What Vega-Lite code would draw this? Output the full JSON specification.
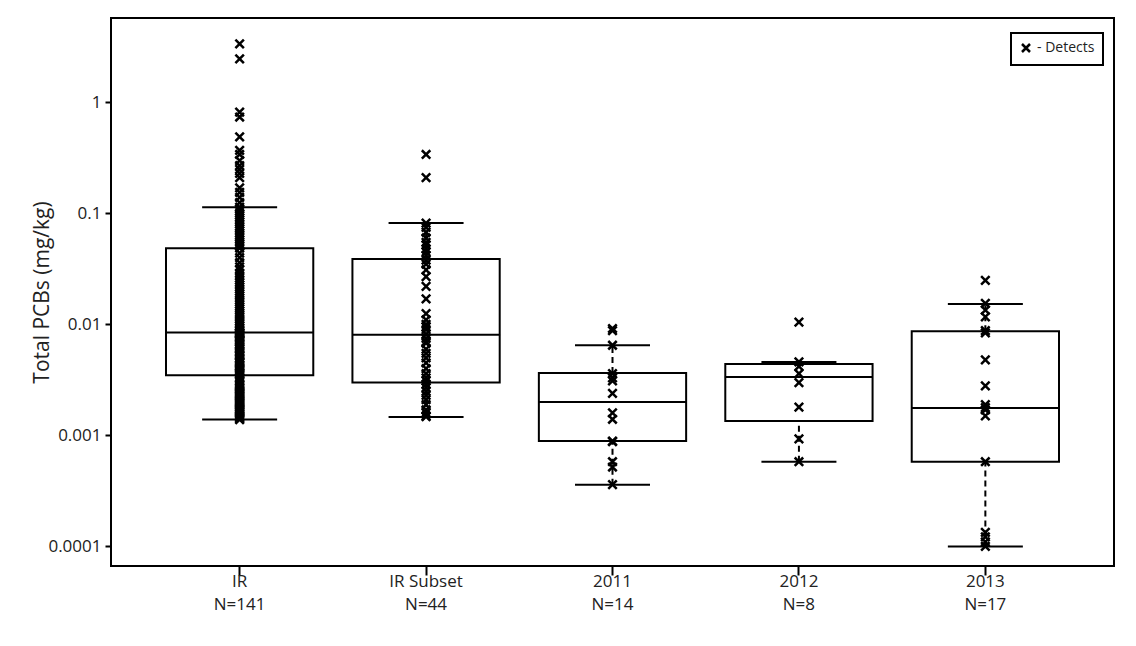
{
  "$schema": "https://vega.github.io/schema/vega-lite/v6.json",
  "width": 1003,
  "height": 548,
  "autosize": {"type": "none"},
  "padding": {"left": 111, "top": 18, "right": 22, "bottom": 80},
  "background": "white",
  "config": {
    "font": "Open Sans",
    "view": {"stroke": "black", "strokeWidth": 2},
    "axis": {"grid": false, "domain": false, "tickColor": "black", "labelColor": "#222", "titleColor": "#222", "labelFont": "Open Sans", "titleFont": "Open Sans"},
    "legend": {"strokeWidth": 2},
    "tick": {"opacity": 1}
  },
  "datasets": {
    "stats": [
      {"g": "IR", "n": 141, "lo": 0.00139, "q1": 0.00348, "med": 0.00847, "q3": 0.0487, "hi": 0.114},
      {"g": "IR Subset", "n": 44, "lo": 0.00147, "q1": 0.0030, "med": 0.0081, "q3": 0.039, "hi": 0.082},
      {"g": "2011", "n": 14, "lo": 0.00036, "q1": 0.00089, "med": 0.0020, "q3": 0.00366, "hi": 0.0065},
      {"g": "2012", "n": 8, "lo": 0.00058, "q1": 0.00135, "med": 0.00336, "q3": 0.0044, "hi": 0.0046},
      {"g": "2013", "n": 17, "lo": 0.0001, "q1": 0.00058, "med": 0.00177, "q3": 0.0087, "hi": 0.0153}
    ],
    "points": [
      {"g": "IR", "v": 0.00139}, {"g": "IR", "v": 0.00142}, {"g": "IR", "v": 0.00145}, {"g": "IR", "v": 0.00148}, {"g": "IR", "v": 0.00151},
      {"g": "IR", "v": 0.00155}, {"g": "IR", "v": 0.00158}, {"g": "IR", "v": 0.00162}, {"g": "IR", "v": 0.00166}, {"g": "IR", "v": 0.0017},
      {"g": "IR", "v": 0.00174}, {"g": "IR", "v": 0.00178}, {"g": "IR", "v": 0.00182}, {"g": "IR", "v": 0.00187}, {"g": "IR", "v": 0.00191},
      {"g": "IR", "v": 0.00196}, {"g": "IR", "v": 0.002}, {"g": "IR", "v": 0.00205}, {"g": "IR", "v": 0.0021}, {"g": "IR", "v": 0.00215},
      {"g": "IR", "v": 0.0022}, {"g": "IR", "v": 0.00225}, {"g": "IR", "v": 0.0023}, {"g": "IR", "v": 0.00236}, {"g": "IR", "v": 0.00242},
      {"g": "IR", "v": 0.00248}, {"g": "IR", "v": 0.00254}, {"g": "IR", "v": 0.0026}, {"g": "IR", "v": 0.00266}, {"g": "IR", "v": 0.00272},
      {"g": "IR", "v": 0.00279}, {"g": "IR", "v": 0.00286}, {"g": "IR", "v": 0.00293}, {"g": "IR", "v": 0.0031}, {"g": "IR", "v": 0.0033},
      {"g": "IR", "v": 0.00348},
      {"g": "IR", "v": 0.00356}, {"g": "IR", "v": 0.00365}, {"g": "IR", "v": 0.0037}, {"g": "IR", "v": 0.0038}, {"g": "IR", "v": 0.0039},
      {"g": "IR", "v": 0.004}, {"g": "IR", "v": 0.0041}, {"g": "IR", "v": 0.0042}, {"g": "IR", "v": 0.00435}, {"g": "IR", "v": 0.0045},
      {"g": "IR", "v": 0.0046}, {"g": "IR", "v": 0.0047}, {"g": "IR", "v": 0.0049}, {"g": "IR", "v": 0.005}, {"g": "IR", "v": 0.0052},
      {"g": "IR", "v": 0.0053}, {"g": "IR", "v": 0.0055}, {"g": "IR", "v": 0.0056}, {"g": "IR", "v": 0.0058}, {"g": "IR", "v": 0.006},
      {"g": "IR", "v": 0.0061}, {"g": "IR", "v": 0.0063}, {"g": "IR", "v": 0.0065}, {"g": "IR", "v": 0.0067}, {"g": "IR", "v": 0.0069},
      {"g": "IR", "v": 0.0071}, {"g": "IR", "v": 0.0073}, {"g": "IR", "v": 0.0075}, {"g": "IR", "v": 0.0077}, {"g": "IR", "v": 0.0079},
      {"g": "IR", "v": 0.0081}, {"g": "IR", "v": 0.0082}, {"g": "IR", "v": 0.0083}, {"g": "IR", "v": 0.0084}, {"g": "IR", "v": 0.00847},
      {"g": "IR", "v": 0.0087}, {"g": "IR", "v": 0.009}, {"g": "IR", "v": 0.0093}, {"g": "IR", "v": 0.0097}, {"g": "IR", "v": 0.01},
      {"g": "IR", "v": 0.0104}, {"g": "IR", "v": 0.0108}, {"g": "IR", "v": 0.0112}, {"g": "IR", "v": 0.0117}, {"g": "IR", "v": 0.0122},
      {"g": "IR", "v": 0.0127}, {"g": "IR", "v": 0.0133}, {"g": "IR", "v": 0.0139}, {"g": "IR", "v": 0.0145}, {"g": "IR", "v": 0.0152},
      {"g": "IR", "v": 0.0159}, {"g": "IR", "v": 0.0166}, {"g": "IR", "v": 0.0174}, {"g": "IR", "v": 0.0182}, {"g": "IR", "v": 0.019},
      {"g": "IR", "v": 0.0199}, {"g": "IR", "v": 0.0208}, {"g": "IR", "v": 0.0218}, {"g": "IR", "v": 0.0228}, {"g": "IR", "v": 0.0238},
      {"g": "IR", "v": 0.025}, {"g": "IR", "v": 0.0262}, {"g": "IR", "v": 0.0275}, {"g": "IR", "v": 0.029}, {"g": "IR", "v": 0.031},
      {"g": "IR", "v": 0.033}, {"g": "IR", "v": 0.036}, {"g": "IR", "v": 0.04}, {"g": "IR", "v": 0.044}, {"g": "IR", "v": 0.0487},
      {"g": "IR", "v": 0.051}, {"g": "IR", "v": 0.053}, {"g": "IR", "v": 0.055}, {"g": "IR", "v": 0.058}, {"g": "IR", "v": 0.061},
      {"g": "IR", "v": 0.064}, {"g": "IR", "v": 0.067}, {"g": "IR", "v": 0.07}, {"g": "IR", "v": 0.073}, {"g": "IR", "v": 0.076},
      {"g": "IR", "v": 0.08}, {"g": "IR", "v": 0.084}, {"g": "IR", "v": 0.088}, {"g": "IR", "v": 0.092}, {"g": "IR", "v": 0.096},
      {"g": "IR", "v": 0.1}, {"g": "IR", "v": 0.105}, {"g": "IR", "v": 0.11}, {"g": "IR", "v": 0.114}, {"g": "IR", "v": 0.125},
      {"g": "IR", "v": 0.14}, {"g": "IR", "v": 0.155}, {"g": "IR", "v": 0.17}, {"g": "IR", "v": 0.21}, {"g": "IR", "v": 0.23},
      {"g": "IR", "v": 0.25}, {"g": "IR", "v": 0.27}, {"g": "IR", "v": 0.3}, {"g": "IR", "v": 0.34}, {"g": "IR", "v": 0.37},
      {"g": "IR", "v": 0.49}, {"g": "IR", "v": 0.74}, {"g": "IR", "v": 0.82}, {"g": "IR", "v": 2.47}, {"g": "IR", "v": 3.37},

      {"g": "IR Subset", "v": 0.34}, {"g": "IR Subset", "v": 0.21}, {"g": "IR Subset", "v": 0.082}, {"g": "IR Subset", "v": 0.075},
      {"g": "IR Subset", "v": 0.068}, {"g": "IR Subset", "v": 0.06}, {"g": "IR Subset", "v": 0.055}, {"g": "IR Subset", "v": 0.052},
      {"g": "IR Subset", "v": 0.048}, {"g": "IR Subset", "v": 0.045}, {"g": "IR Subset", "v": 0.042}, {"g": "IR Subset", "v": 0.038},
      {"g": "IR Subset", "v": 0.035}, {"g": "IR Subset", "v": 0.031}, {"g": "IR Subset", "v": 0.027}, {"g": "IR Subset", "v": 0.022},
      {"g": "IR Subset", "v": 0.017}, {"g": "IR Subset", "v": 0.0125}, {"g": "IR Subset", "v": 0.011}, {"g": "IR Subset", "v": 0.01},
      {"g": "IR Subset", "v": 0.0095}, {"g": "IR Subset", "v": 0.009}, {"g": "IR Subset", "v": 0.0082}, {"g": "IR Subset", "v": 0.0075},
      {"g": "IR Subset", "v": 0.007}, {"g": "IR Subset", "v": 0.0068}, {"g": "IR Subset", "v": 0.006}, {"g": "IR Subset", "v": 0.0055},
      {"g": "IR Subset", "v": 0.005}, {"g": "IR Subset", "v": 0.0045}, {"g": "IR Subset", "v": 0.004}, {"g": "IR Subset", "v": 0.0036},
      {"g": "IR Subset", "v": 0.0033}, {"g": "IR Subset", "v": 0.0031}, {"g": "IR Subset", "v": 0.0029}, {"g": "IR Subset", "v": 0.0027},
      {"g": "IR Subset", "v": 0.0025}, {"g": "IR Subset", "v": 0.0023}, {"g": "IR Subset", "v": 0.0021}, {"g": "IR Subset", "v": 0.0019},
      {"g": "IR Subset", "v": 0.0017}, {"g": "IR Subset", "v": 0.0016}, {"g": "IR Subset", "v": 0.0015}, {"g": "IR Subset", "v": 0.00148},

      {"g": "2011", "v": 0.0092}, {"g": "2011", "v": 0.0088}, {"g": "2011", "v": 0.0065}, {"g": "2011", "v": 0.0036},
      {"g": "2011", "v": 0.0033}, {"g": "2011", "v": 0.0031}, {"g": "2011", "v": 0.0024}, {"g": "2011", "v": 0.0016},
      {"g": "2011", "v": 0.0014}, {"g": "2011", "v": 0.00089}, {"g": "2011", "v": 0.00088}, {"g": "2011", "v": 0.00058},
      {"g": "2011", "v": 0.00052}, {"g": "2011", "v": 0.00036},

      {"g": "2012", "v": 0.0105}, {"g": "2012", "v": 0.0046}, {"g": "2012", "v": 0.0042}, {"g": "2012", "v": 0.0036},
      {"g": "2012", "v": 0.003}, {"g": "2012", "v": 0.0018}, {"g": "2012", "v": 0.00093}, {"g": "2012", "v": 0.00058},

      {"g": "2013", "v": 0.025}, {"g": "2013", "v": 0.0155}, {"g": "2013", "v": 0.0135}, {"g": "2013", "v": 0.0117},
      {"g": "2013", "v": 0.0088}, {"g": "2013", "v": 0.0084}, {"g": "2013", "v": 0.0048}, {"g": "2013", "v": 0.0028},
      {"g": "2013", "v": 0.0019}, {"g": "2013", "v": 0.00178}, {"g": "2013", "v": 0.0017}, {"g": "2013", "v": 0.0015},
      {"g": "2013", "v": 0.00058}, {"g": "2013", "v": 0.000134}, {"g": "2013", "v": 0.000122}, {"g": "2013", "v": 0.00011},
      {"g": "2013", "v": 0.0001}
    ]
  },
  "encoding": {
    "x": {
      "field": "g",
      "type": "nominal",
      "sort": ["IR", "IR Subset", "2011", "2012", "2013"],
      "scale": {"type": "band", "domain": ["IR", "IR Subset", "2011", "2012", "2013"], "paddingInner": 0, "paddingOuter": 0.19},
      "axis": {
        "title": null,
        "domain": false,
        "labelAngle": 0,
        "labelFontSize": 17,
        "labelLineHeight": 23,
        "labelPadding": -2,
        "tickSize": 9,
        "tickWidth": 2,
        "labelExpr": "datum.value == 'IR' ? ['IR', 'N=141'] : datum.value == 'IR Subset' ? ['IR Subset', 'N=44'] : datum.value == '2011' ? ['2011', 'N=14'] : datum.value == '2012' ? ['2012', 'N=8'] : ['2013', 'N=17']"
      }
    }
  },
  "layer": [
    {
      "data": {"name": "stats"},
      "mark": {"type": "rule", "color": "black", "strokeWidth": 2, "strokeDash": [6, 4]},
      "encoding": {
        "y": {"field": "q3", "type": "quantitative", "scale": {"type": "log", "domain": [0.0000667, 5.77], "nice": false},
          "axis": {"title": "Total PCBs (mg/kg)", "domain": false, "titleFontSize": 21, "titleFontWeight": "normal", "titlePadding": -5, "values": [0.0001, 0.001, 0.01, 0.1, 1], "format": ".4~f", "labelFontSize": 17, "labelPadding": 4, "tickSize": 6, "tickWidth": 2}},
        "y2": {"field": "hi"}
      }
    },
    {
      "data": {"name": "stats"},
      "mark": {"type": "rule", "color": "black", "strokeWidth": 2, "strokeDash": [6, 4]},
      "encoding": {
        "y": {"field": "lo", "type": "quantitative", "scale": {"type": "log", "domain": [0.0000667, 5.77], "nice": false},
          "axis": {"title": "Total PCBs (mg/kg)", "domain": false, "titleFontSize": 21, "titleFontWeight": "normal", "titlePadding": -5, "values": [0.0001, 0.001, 0.01, 0.1, 1], "format": ".4~f", "labelFontSize": 17, "labelPadding": 4, "tickSize": 6, "tickWidth": 2}},
        "y2": {"field": "q1"}
      }
    },
    {
      "data": {"name": "stats"},
      "mark": {"type": "bar", "fill": "transparent", "stroke": "black", "strokeWidth": 2, "width": {"band": 0.79}},
      "encoding": {
        "y": {"field": "q1", "type": "quantitative", "scale": {"type": "log", "domain": [0.0000667, 5.77], "nice": false},
          "axis": {"title": "Total PCBs (mg/kg)", "domain": false, "titleFontSize": 21, "titleFontWeight": "normal", "titlePadding": -5, "values": [0.0001, 0.001, 0.01, 0.1, 1], "format": ".4~f", "labelFontSize": 17, "labelPadding": 4, "tickSize": 6, "tickWidth": 2}},
        "y2": {"field": "q3"}
      }
    },
    {
      "data": {"name": "stats"},
      "mark": {"type": "tick", "color": "black", "opacity": 1, "size": 148, "thickness": 2, "orient": "horizontal"},
      "encoding": {
        "y": {"field": "med", "type": "quantitative", "scale": {"type": "log", "domain": [0.0000667, 5.77], "nice": false},
          "axis": {"title": "Total PCBs (mg/kg)", "domain": false, "titleFontSize": 21, "titleFontWeight": "normal", "titlePadding": -5, "values": [0.0001, 0.001, 0.01, 0.1, 1], "format": ".4~f", "labelFontSize": 17, "labelPadding": 4, "tickSize": 6, "tickWidth": 2}}
      }
    },
    {
      "data": {"name": "stats"},
      "mark": {"type": "tick", "color": "black", "opacity": 1, "size": 75, "thickness": 2, "orient": "horizontal"},
      "encoding": {
        "y": {"field": "hi", "type": "quantitative", "scale": {"type": "log", "domain": [0.0000667, 5.77], "nice": false},
          "axis": {"title": "Total PCBs (mg/kg)", "domain": false, "titleFontSize": 21, "titleFontWeight": "normal", "titlePadding": -5, "values": [0.0001, 0.001, 0.01, 0.1, 1], "format": ".4~f", "labelFontSize": 17, "labelPadding": 4, "tickSize": 6, "tickWidth": 2}}
      }
    },
    {
      "data": {"name": "stats"},
      "mark": {"type": "tick", "color": "black", "opacity": 1, "size": 75, "thickness": 2, "orient": "horizontal"},
      "encoding": {
        "y": {"field": "lo", "type": "quantitative", "scale": {"type": "log", "domain": [0.0000667, 5.77], "nice": false},
          "axis": {"title": "Total PCBs (mg/kg)", "domain": false, "titleFontSize": 21, "titleFontWeight": "normal", "titlePadding": -5, "values": [0.0001, 0.001, 0.01, 0.1, 1], "format": ".4~f", "labelFontSize": 17, "labelPadding": 4, "tickSize": 6, "tickWidth": 2}}
      }
    },
    {
      "data": {"name": "points"},
      "mark": {"type": "point", "filled": false, "stroke": "black", "strokeWidth": 2.5, "size": 72, "opacity": 1},
      "encoding": {
        "y": {"field": "v", "type": "quantitative", "scale": {"type": "log", "domain": [0.0000667, 5.77], "nice": false},
          "axis": {"title": "Total PCBs (mg/kg)", "domain": false, "titleFontSize": 21, "titleFontWeight": "normal", "titlePadding": -5, "values": [0.0001, 0.001, 0.01, 0.1, 1], "format": ".4~f", "labelFontSize": 17, "labelPadding": 4, "tickSize": 6, "tickWidth": 2}},
        "shape": {
          "datum": "- Detects",
          "type": "nominal",
          "scale": {"range": ["M-1,-1L1,1M-1,1L1,-1"]},
          "legend": {
            "title": null,
            "orient": "none",
            "legendX": 900,
            "legendY": 15,
            "padding": 8,
            "strokeColor": "black",
            "fillColor": "white",
            "symbolSize": 64,
            "symbolStrokeColor": "black",
            "symbolStrokeWidth": 2.5,
            "symbolFillColor": "transparent",
            "labelFontSize": 14,
            "labelColor": "#222",
            "labelOffset": 4
          }
        }
      }
    }
  ]
}
